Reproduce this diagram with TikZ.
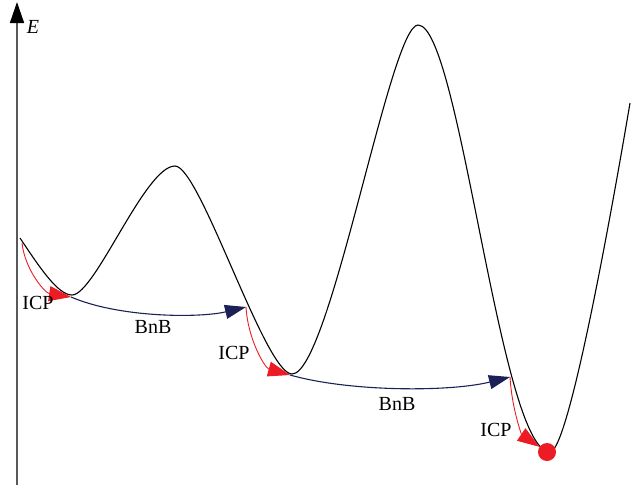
\documentclass[tikz,border=0pt]{standalone}
\usepackage{fontspec}
\setmainfont{Liberation Serif}
\usepackage{xcolor}
\usetikzlibrary{arrows.meta}
\definecolor{icpred}{HTML}{ED1C24}
\definecolor{bnbblue}{HTML}{1B2157}
\tikzset{
  icp/.style={icpred, line width=0.9pt, -{Triangle[length=22pt,width=15pt]}},
  bnb/.style={bnbblue, line width=1.1pt, -{Triangle[length=21pt,width=14pt]}},
  lbl/.style={font=\fontsize{20}{24}\selectfont, inner sep=0pt}
}

\begin{document}
\begin{tikzpicture}[x=1pt,y=-1pt]
\useasboundingbox (0,0) rectangle (635,485);
% energy axis
\coordinate (axbot) at (17,485);
\coordinate (axtop) at (17,2);
\draw[line width=1.5pt, black!65, -{Triangle[length=21pt,width=14pt,color=black]}] (axbot) -- (axtop);
\node[lbl] (elabel) at (33,27) {\textit{E}};
% energy landscape
\draw[line width=1.1pt] (20,238) .. controls (40,268) and (58,295) .. (72,295)
  .. controls (95,295) and (145,166) .. (175,166)
  .. controls (200,166) and (265,374) .. (292,374)
  .. controls (330,374) and (390,25) .. (418,25)
  .. controls (460,25) and (500,452) .. (550,452)
  .. controls (570,452) and (618,174) .. (630,103);
% points on the path
\coordinate (start) at (22,243);
\coordinate (well1) at (71,297);
\coordinate (jump1) at (246,307);
\coordinate (well2) at (290,375);
\coordinate (jump2) at (510,377);
\node[circle, fill=icpred, minimum size=18pt, inner sep=0pt] (well3) at (547,452) {};
% local descents
\draw[icp] (start) .. controls (25,270) and (45,293) .. (well1);
\draw[icp] (jump1) .. controls (248,340) and (265,368) .. (well2);
\draw[icp] (jump2) .. controls (512,410) and (522,435) .. (well3);
% jumps
\draw[bnb] (well1) .. controls (120,318) and (200,318) .. (jump1);
\draw[bnb] (well2) .. controls (350,392) and (450,392) .. (jump2);
% labels
\node[lbl] (icp1) at (38,303) {ICP};
\node[lbl] (bnb1) at (153,327) {BnB};
\node[lbl] (icp2) at (234,353) {ICP};
\node[lbl] (bnb2) at (397,404) {BnB};
\node[lbl] (icp3) at (496,430) {ICP};
\end{tikzpicture}
\end{document}
